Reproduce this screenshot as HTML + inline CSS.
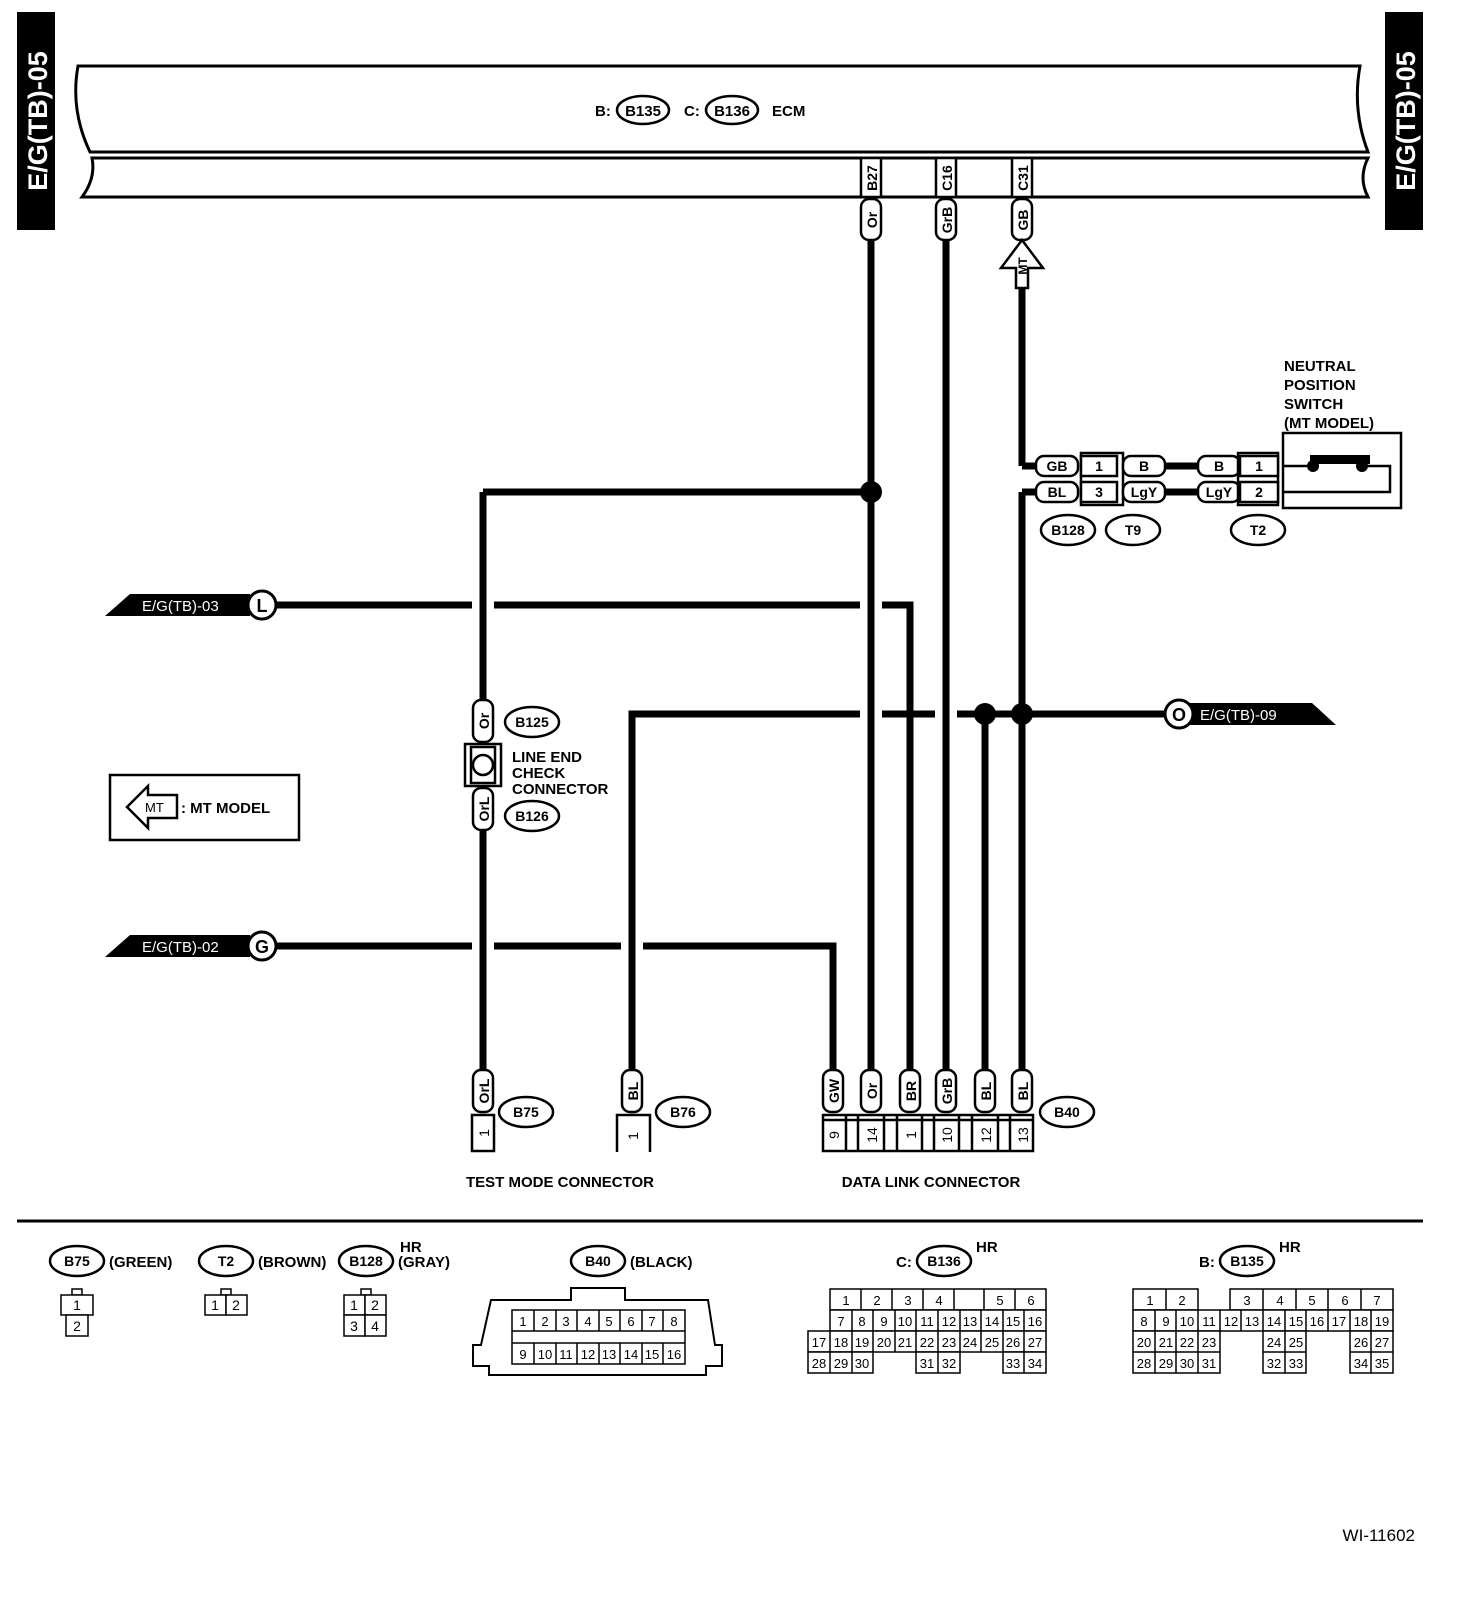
<!DOCTYPE html>
<html><head><meta charset="utf-8"><style>
body{margin:0;background:#fff}
svg{display:block}
text{font-family:"Liberation Sans",sans-serif;font-weight:bold;fill:#000}
.n{font-weight:normal}
</style></head><body>
<svg width="1472" height="1600" viewBox="0 0 1472 1600" xmlns="http://www.w3.org/2000/svg">
<!-- side tags -->
<rect x="17" y="12" width="38" height="218" fill="#000"/>
<text transform="translate(47,121) rotate(-90)" text-anchor="middle" font-size="27" style="fill:#fff">E/G(TB)-05</text>
<rect x="1385" y="12" width="38" height="218" fill="#000"/>
<text transform="translate(1415,121) rotate(-90)" text-anchor="middle" font-size="27" style="fill:#fff">E/G(TB)-05</text>

<!-- ECM -->
<g fill="none" stroke="#000" stroke-width="3">
<path d="M78,66 L1360,66 Q1352,110 1368,152 L90,152 Q70,110 78,66 Z"/>
<path d="M92,158 L1368,158 Q1358,178 1368,197 L82,197 Q96,178 92,158 Z"/>
</g>
<text x="595" y="116" font-size="15">B:</text>
<ellipse cx="643" cy="110" rx="26" ry="14" fill="#fff" stroke="#000" stroke-width="2.5"/>
<text x="643" y="116" font-size="15" text-anchor="middle">B135</text>
<text x="684" y="116" font-size="15">C:</text>
<ellipse cx="732" cy="110" rx="26" ry="14" fill="#fff" stroke="#000" stroke-width="2.5"/>
<text x="732" y="116" font-size="15" text-anchor="middle">B136</text>
<text x="772" y="116" font-size="15">ECM</text>

<!-- ECM pin labels -->
<g stroke="#000" stroke-width="2.5" fill="#fff">
<rect x="861" y="158" width="20" height="39"/>
<rect x="936" y="158" width="20" height="39"/>
<rect x="1012" y="158" width="20" height="39"/>
</g>
<g font-size="14" text-anchor="middle">
<text transform="translate(877,178) rotate(-90)">B27</text>
<text transform="translate(952,178) rotate(-90)">C16</text>
<text transform="translate(1028,178) rotate(-90)">C31</text>
</g>

<!-- wires -->
<g stroke="#000" stroke-width="7" fill="none">
<line x1="871" y1="240" x2="871" y2="1072"/>
<line x1="946" y1="240" x2="946" y2="1072"/>
<line x1="1022" y1="288" x2="1022" y2="466"/>
<line x1="1022" y1="466" x2="1036" y2="466"/>
<line x1="1036" y1="492" x2="1022" y2="492"/>
<line x1="1022" y1="492" x2="1022" y2="1072"/>
<line x1="483" y1="492" x2="871" y2="492"/>
<line x1="483" y1="492" x2="483" y2="700"/>
<line x1="483" y1="830" x2="483" y2="1072"/>
<!-- L line -->
<polyline points="275,605 472,605"/>
<polyline points="494,605 860,605"/>
<polyline points="882,605 910,605 910,1072"/>
<!-- O line -->
<polyline points="632,1072 632,714 860,714"/>
<polyline points="882,714 935,714"/>
<polyline points="957,714 1165,714"/>
<line x1="985" y1="714" x2="985" y2="1072"/>
<!-- G line -->
<polyline points="275,946 472,946"/>
<polyline points="494,946 621,946"/>
<polyline points="643,946 833,946 833,1072"/>
<!-- T9-T2 -->
<line x1="1165" y1="466" x2="1200" y2="466"/>
<line x1="1165" y1="492" x2="1200" y2="492"/>
</g>
<g fill="#000">
<circle cx="871" cy="492" r="11"/>
<circle cx="985" cy="714" r="11"/>
<circle cx="1022" cy="714" r="11"/>
</g>

<!-- ECM wire color ovals -->
<g stroke="#000" stroke-width="2.5" fill="#fff">
<rect x="861" y="199" width="20" height="41" rx="8"/>
<rect x="936" y="199" width="20" height="41" rx="8"/>
<rect x="1012" y="199" width="20" height="41" rx="8"/>
<path d="M1016,288 L1016,268 L1001,268 L1022,240 L1043,268 L1028,268 L1028,288 Z"/>
</g>
<g font-size="14" text-anchor="middle">
<text transform="translate(877,220) rotate(-90)">Or</text>
<text transform="translate(952,220) rotate(-90)">GrB</text>
<text transform="translate(1028,220) rotate(-90)">GB</text>
<text transform="translate(1027,266) rotate(-90)" font-size="12">MT</text>
</g>

<!-- neutral switch -->
<text x="1284" y="371" font-size="15">NEUTRAL</text>
<text x="1284" y="390" font-size="15">POSITION</text>
<text x="1284" y="409" font-size="15">SWITCH</text>
<text x="1284" y="428" font-size="15">(MT MODEL)</text>
<g stroke="#000" stroke-width="2.5" fill="#fff">
<rect x="1283" y="433" width="118" height="75"/>
<polyline points="1283,466 1313,466" fill="none"/>
<polyline points="1362,466 1390,466 1390,492 1283,492" fill="none"/>
<rect x="1036" y="456" width="42" height="20" rx="8"/>
<rect x="1036" y="482" width="42" height="20" rx="8"/>
<rect x="1081" y="453" width="42" height="52"/>
<rect x="1081" y="456" width="36" height="20"/>
<rect x="1081" y="482" width="36" height="20"/>
<rect x="1123" y="456" width="42" height="20" rx="8"/>
<rect x="1123" y="482" width="42" height="20" rx="8"/>
<rect x="1198" y="456" width="42" height="20" rx="8"/>
<rect x="1198" y="482" width="42" height="20" rx="8"/>
<rect x="1238" y="453" width="40" height="52"/>
<rect x="1240" y="456" width="38" height="20"/>
<rect x="1240" y="482" width="38" height="20"/>
<ellipse cx="1068" cy="530" rx="27" ry="15"/>
<ellipse cx="1133" cy="530" rx="27" ry="15"/>
<ellipse cx="1258" cy="530" rx="27" ry="15"/>
</g>
<rect x="1310" y="455" width="60" height="9" fill="#000"/>
<circle cx="1313" cy="466" r="6"/><circle cx="1362" cy="466" r="6"/>
<g font-size="14" text-anchor="middle">
<text x="1057" y="471">GB</text><text x="1057" y="497">BL</text>
<text x="1099" y="471">1</text><text x="1099" y="497">3</text>
<text x="1144" y="471">B</text><text x="1144" y="497">LgY</text>
<text x="1219" y="471">B</text><text x="1219" y="497">LgY</text>
<text x="1259" y="471">1</text><text x="1259" y="497">2</text>
<text x="1068" y="535">B128</text><text x="1133" y="535">T9</text><text x="1258" y="535">T2</text>
</g>

<!-- off-page tags -->
<path d="M105,616 L130,594 L250,594 L250,616 Z" fill="#000"/>
<text x="142" y="611" font-size="15" class="n" style="fill:#fff">E/G(TB)-03</text>
<circle cx="262" cy="605" r="14" fill="#fff" stroke="#000" stroke-width="3"/>
<text x="262" y="612" font-size="18" text-anchor="middle">L</text>
<path d="M105,957 L130,935 L250,935 L250,957 Z" fill="#000"/>
<text x="142" y="952" font-size="15" class="n" style="fill:#fff">E/G(TB)-02</text>
<circle cx="262" cy="946" r="14" fill="#fff" stroke="#000" stroke-width="3"/>
<text x="262" y="953" font-size="18" text-anchor="middle">G</text>
<path d="M1190,703 L1312,703 L1336,725 L1190,725 Z" fill="#000"/>
<text x="1200" y="720" font-size="15" class="n" style="fill:#fff">E/G(TB)-09</text>
<circle cx="1179" cy="714" r="14" fill="#fff" stroke="#000" stroke-width="3"/>
<text x="1179" y="721" font-size="18" text-anchor="middle">O</text>

<!-- line end check connector -->
<g stroke="#000" stroke-width="2.5" fill="#fff">
<rect x="473" y="700" width="20" height="42" rx="8"/>
<rect x="465" y="744" width="36" height="42"/>
<rect x="471" y="747" width="24" height="36"/>
<circle cx="483" cy="765" r="10"/>
<rect x="473" y="788" width="20" height="42" rx="8"/>
<ellipse cx="532" cy="722" rx="27" ry="15"/>
<ellipse cx="532" cy="816" rx="27" ry="15"/>
</g>
<g font-size="14" text-anchor="middle">
<text transform="translate(489,721) rotate(-90)">Or</text>
<text transform="translate(489,809) rotate(-90)">OrL</text>
<text x="532" y="727">B125</text><text x="532" y="821">B126</text>
</g>
<text x="512" y="762" font-size="15">LINE END</text>
<text x="512" y="778" font-size="15">CHECK</text>
<text x="512" y="794" font-size="15">CONNECTOR</text>

<!-- MT legend -->
<rect x="110" y="775" width="189" height="65" fill="#fff" stroke="#000" stroke-width="2.5"/>
<path d="M177,795 L177,818 L148,818 L148,828 L127,807 L148,786 L148,795 Z" fill="#fff" stroke="#000" stroke-width="2.5"/>
<text x="145" y="812" font-size="13" class="n">MT</text>
<text x="181" y="813" font-size="15">: MT MODEL</text>

<!-- bottom connectors -->
<g stroke="#000" stroke-width="2.5" fill="#fff">
<rect x="473" y="1070" width="20" height="42" rx="8"/>
<rect x="622" y="1070" width="20" height="42" rx="8"/>
<rect x="823" y="1070" width="20" height="42" rx="8"/>
<rect x="861" y="1070" width="20" height="42" rx="8"/>
<rect x="900" y="1070" width="20" height="42" rx="8"/>
<rect x="936" y="1070" width="20" height="42" rx="8"/>
<rect x="975" y="1070" width="20" height="42" rx="8"/>
<rect x="1012" y="1070" width="20" height="42" rx="8"/>
<rect x="472" y="1115" width="22" height="36"/>
<path d="M617,1152 L617,1115 L650,1115 L650,1152" fill="none"/>
<rect x="823" y="1115" width="210" height="36"/>
<ellipse cx="526" cy="1112" rx="27" ry="15"/>
<ellipse cx="683" cy="1112" rx="27" ry="15"/>
<ellipse cx="1067" cy="1112" rx="27" ry="15"/>
</g>
<g stroke="#000" stroke-width="2.5">
<line x1="823" y1="1120" x2="1033" y2="1120"/>
<line x1="846" y1="1115" x2="846" y2="1151"/>
<line x1="858" y1="1115" x2="858" y2="1151"/>
<line x1="884" y1="1115" x2="884" y2="1151"/>
<line x1="897" y1="1115" x2="897" y2="1151"/>
<line x1="922" y1="1115" x2="922" y2="1151"/>
<line x1="934" y1="1115" x2="934" y2="1151"/>
<line x1="959" y1="1115" x2="959" y2="1151"/>
<line x1="972" y1="1115" x2="972" y2="1151"/>
<line x1="998" y1="1115" x2="998" y2="1151"/>
<line x1="1010" y1="1115" x2="1010" y2="1151"/>
</g>
<g font-size="14" text-anchor="middle">
<text transform="translate(489,1091) rotate(-90)">OrL</text>
<text transform="translate(638,1091) rotate(-90)">BL</text>
<text transform="translate(839,1091) rotate(-90)">GW</text>
<text transform="translate(877,1091) rotate(-90)">Or</text>
<text transform="translate(916,1091) rotate(-90)">BR</text>
<text transform="translate(952,1091) rotate(-90)">GrB</text>
<text transform="translate(991,1091) rotate(-90)">BL</text>
<text transform="translate(1028,1091) rotate(-90)">BL</text>
<text transform="translate(489,1133) rotate(-90)" class="n">1</text>
<text transform="translate(638,1136) rotate(-90)" class="n">1</text>
<text transform="translate(839,1135) rotate(-90)" class="n">9</text>
<text transform="translate(877,1135) rotate(-90)" class="n">14</text>
<text transform="translate(916,1135) rotate(-90)" class="n">1</text>
<text transform="translate(952,1135) rotate(-90)" class="n">10</text>
<text transform="translate(991,1135) rotate(-90)" class="n">12</text>
<text transform="translate(1028,1135) rotate(-90)" class="n">13</text>
<text x="526" y="1117">B75</text><text x="683" y="1117">B76</text><text x="1067" y="1117">B40</text>
</g>
<text x="560" y="1187" font-size="15" text-anchor="middle">TEST MODE CONNECTOR</text>
<text x="931" y="1187" font-size="15" text-anchor="middle">DATA LINK CONNECTOR</text>

<line x1="17" y1="1221" x2="1423" y2="1221" stroke="#000" stroke-width="3"/>

<!-- legend -->
<g stroke="#000" stroke-width="2.5" fill="#fff">
<ellipse cx="77" cy="1261" rx="27" ry="15"/>
<ellipse cx="226" cy="1261" rx="27" ry="15"/>
<ellipse cx="366" cy="1261" rx="27" ry="15"/>
<ellipse cx="598" cy="1261" rx="27" ry="15"/>
<ellipse cx="944" cy="1261" rx="27" ry="15"/>
<ellipse cx="1247" cy="1261" rx="27" ry="15"/>
</g>
<g font-size="14" text-anchor="middle">
<text x="77" y="1266">B75</text><text x="226" y="1266">T2</text><text x="366" y="1266">B128</text>
<text x="598" y="1266">B40</text><text x="944" y="1266">B136</text><text x="1247" y="1266">B135</text>
</g>
<g font-size="15">
<text x="109" y="1267">(GREEN)</text>
<text x="258" y="1267">(BROWN)</text>
<text x="398" y="1267">(GRAY)</text>
<text x="400" y="1252">HR</text>
<text x="630" y="1267">(BLACK)</text>
<text x="896" y="1267">C:</text><text x="976" y="1252">HR</text>
<text x="1199" y="1267">B:</text><text x="1279" y="1252">HR</text>
</g>
<g stroke="#000" stroke-width="1.5" fill="#fff">
<rect x="72" y="1289" width="10" height="6"/>
<rect x="61" y="1295" width="32" height="20"/>
<rect x="66" y="1315" width="22" height="21"/>
<rect x="221" y="1289" width="10" height="6"/>
<rect x="205" y="1295" width="21" height="20"/><rect x="226" y="1295" width="21" height="20"/>
<rect x="361" y="1289" width="10" height="6"/>
<rect x="344" y="1295" width="21" height="20"/><rect x="365" y="1295" width="21" height="20"/>
<rect x="344" y="1315" width="21" height="21"/><rect x="365" y="1315" width="21" height="21"/>
<path d="M473,1366 L473,1345 L481,1345 L491,1300 L571,1300 L571,1288 L625,1288 L625,1300 L708,1300 L715,1345 L722,1345 L722,1366 L706,1366 L706,1375 L489,1375 L489,1366 Z" stroke-width="2"/>
<rect x="512" y="1310" width="173" height="54"/>
</g>
<g stroke="#000" stroke-width="1.5" fill="none">
<line x1="512" y1="1331" x2="685" y2="1331"/><line x1="512" y1="1343" x2="685" y2="1343"/>
<path d="M534,1310v21M556,1310v21M577,1310v21M599,1310v21M620,1310v21M642,1310v21M663,1310v21"/>
<path d="M534,1343v21M556,1343v21M577,1343v21M599,1343v21M620,1343v21M642,1343v21M663,1343v21"/>
</g>
<g font-size="14" class="n" text-anchor="middle">
<text x="77" y="1310" class="n">1</text><text x="77" y="1331" class="n">2</text>
<text x="215" y="1310" class="n">1</text><text x="236" y="1310" class="n">2</text>
<text x="354" y="1310" class="n">1</text><text x="375" y="1310" class="n">2</text>
<text x="354" y="1331" class="n">3</text><text x="375" y="1331" class="n">4</text>
</g>
<g font-size="13" text-anchor="middle">
<text x="523" y="1326" class="n">1</text><text x="545" y="1326" class="n">2</text><text x="566" y="1326" class="n">3</text><text x="588" y="1326" class="n">4</text><text x="609" y="1326" class="n">5</text><text x="631" y="1326" class="n">6</text><text x="652" y="1326" class="n">7</text><text x="674" y="1326" class="n">8</text>
<text x="523" y="1359" class="n">9</text><text x="545" y="1359" class="n">10</text><text x="566" y="1359" class="n">11</text><text x="588" y="1359" class="n">12</text><text x="609" y="1359" class="n">13</text><text x="631" y="1359" class="n">14</text><text x="652" y="1359" class="n">15</text><text x="674" y="1359" class="n">16</text>
</g>

<!-- B136 table -->
<g stroke="#000" stroke-width="1.5" fill="#fff">
<rect x="830" y="1289" width="216" height="21"/>
<path d="M861,1289v21M892,1289v21M923,1289v21M954,1289v21M984,1289v21M1015,1289v21" fill="none"/>
<rect x="830" y="1310" width="216" height="21"/>
<path d="M852,1310v21M873,1310v21M895,1310v21M916,1310v21M938,1310v21M960,1310v21M981,1310v21M1003,1310v21M1024,1310v21" fill="none"/>
<rect x="808" y="1331" width="238" height="21"/>
<path d="M830,1331v21M852,1331v21M873,1331v21M895,1331v21M916,1331v21M938,1331v21M960,1331v21M981,1331v21M1003,1331v21M1024,1331v21" fill="none"/>
<rect x="808" y="1352" width="65" height="21"/><path d="M830,1352v21M852,1352v21" fill="none"/>
<rect x="916" y="1352" width="44" height="21"/><path d="M938,1352v21" fill="none"/>
<rect x="1003" y="1352" width="43" height="21"/><path d="M1024,1352v21" fill="none"/>
</g>
<g font-size="13" text-anchor="middle">
<text x="846" y="1305" class="n">1</text><text x="877" y="1305" class="n">2</text><text x="908" y="1305" class="n">3</text><text x="939" y="1305" class="n">4</text><text x="1000" y="1305" class="n">5</text><text x="1031" y="1305" class="n">6</text>
<text x="841" y="1326" class="n">7</text><text x="862" y="1326" class="n">8</text><text x="884" y="1326" class="n">9</text><text x="905" y="1326" class="n">10</text><text x="927" y="1326" class="n">11</text><text x="949" y="1326" class="n">12</text><text x="970" y="1326" class="n">13</text><text x="992" y="1326" class="n">14</text><text x="1013" y="1326" class="n">15</text><text x="1035" y="1326" class="n">16</text>
<text x="819" y="1347" class="n">17</text><text x="841" y="1347" class="n">18</text><text x="862" y="1347" class="n">19</text><text x="884" y="1347" class="n">20</text><text x="905" y="1347" class="n">21</text><text x="927" y="1347" class="n">22</text><text x="949" y="1347" class="n">23</text><text x="970" y="1347" class="n">24</text><text x="992" y="1347" class="n">25</text><text x="1013" y="1347" class="n">26</text><text x="1035" y="1347" class="n">27</text>
<text x="819" y="1368" class="n">28</text><text x="841" y="1368" class="n">29</text><text x="862" y="1368" class="n">30</text><text x="927" y="1368" class="n">31</text><text x="949" y="1368" class="n">32</text><text x="1013" y="1368" class="n">33</text><text x="1035" y="1368" class="n">34</text>
</g>

<!-- B135 table -->
<g stroke="#000" stroke-width="1.5" fill="#fff">
<rect x="1133" y="1289" width="65" height="21"/><path d="M1166,1289v21" fill="none"/>
<rect x="1230" y="1289" width="163" height="21"/>
<path d="M1263,1289v21M1296,1289v21M1328,1289v21M1361,1289v21" fill="none"/>
<rect x="1133" y="1310" width="260" height="21"/>
<path d="M1155,1310v21M1176,1310v21M1198,1310v21M1220,1310v21M1241,1310v21M1263,1310v21M1285,1310v21M1306,1310v21M1328,1310v21M1350,1310v21M1371,1310v21" fill="none"/>
<rect x="1133" y="1331" width="87" height="42"/>
<path d="M1155,1331v42M1176,1331v42M1198,1331v42M1133,1352h87" fill="none"/>
<rect x="1263" y="1331" width="43" height="42"/><path d="M1285,1331v42M1263,1352h43" fill="none"/>
<rect x="1350" y="1331" width="43" height="42"/><path d="M1371,1331v42M1350,1352h43" fill="none"/>
</g>
<g font-size="13" text-anchor="middle">
<text x="1150" y="1305" class="n">1</text><text x="1182" y="1305" class="n">2</text><text x="1247" y="1305" class="n">3</text><text x="1280" y="1305" class="n">4</text><text x="1312" y="1305" class="n">5</text><text x="1345" y="1305" class="n">6</text><text x="1377" y="1305" class="n">7</text>
<text x="1144" y="1326" class="n">8</text><text x="1166" y="1326" class="n">9</text><text x="1187" y="1326" class="n">10</text><text x="1209" y="1326" class="n">11</text><text x="1231" y="1326" class="n">12</text><text x="1252" y="1326" class="n">13</text><text x="1274" y="1326" class="n">14</text><text x="1296" y="1326" class="n">15</text><text x="1317" y="1326" class="n">16</text><text x="1339" y="1326" class="n">17</text><text x="1361" y="1326" class="n">18</text><text x="1382" y="1326" class="n">19</text>
<text x="1144" y="1347" class="n">20</text><text x="1166" y="1347" class="n">21</text><text x="1187" y="1347" class="n">22</text><text x="1209" y="1347" class="n">23</text><text x="1274" y="1347" class="n">24</text><text x="1296" y="1347" class="n">25</text><text x="1361" y="1347" class="n">26</text><text x="1382" y="1347" class="n">27</text>
<text x="1144" y="1368" class="n">28</text><text x="1166" y="1368" class="n">29</text><text x="1187" y="1368" class="n">30</text><text x="1209" y="1368" class="n">31</text><text x="1274" y="1368" class="n">32</text><text x="1296" y="1368" class="n">33</text><text x="1361" y="1368" class="n">34</text><text x="1382" y="1368" class="n">35</text>
</g>

<text x="1415" y="1541" font-size="17" class="n" text-anchor="end">WI-11602</text>
</svg>
</body></html>
